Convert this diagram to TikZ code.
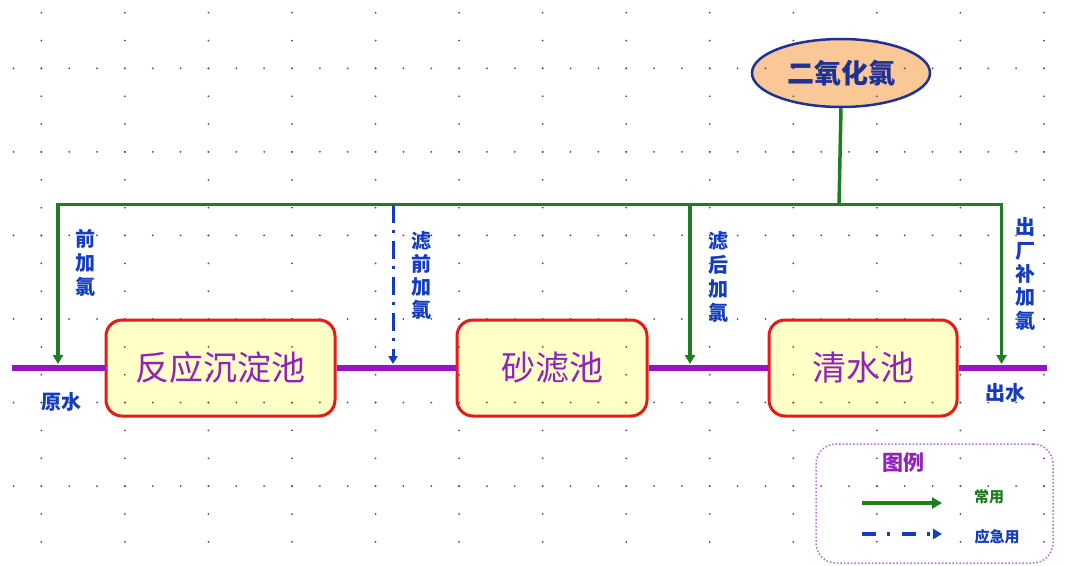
\documentclass[tikz,border=0pt]{standalone}
\usepackage{fontspec}
\newfontfamily\cjk{Noto Sans CJK SC}
\usetikzlibrary{arrows.meta,backgrounds,shapes.geometric}
\definecolor{pline}{RGB}{150,20,200}
\definecolor{boxred}{RGB}{230,25,30}
\definecolor{boxfill}{RGB}{255,255,200}
\definecolor{boxtxt}{RGB}{145,35,185}
\definecolor{gline}{RGB}{30,125,30}
\definecolor{bline}{RGB}{20,60,190}
\definecolor{peach}{RGB}{250,200,150}
\definecolor{ellblue}{RGB}{30,50,150}
\definecolor{legpurple}{RGB}{175,110,205}
\definecolor{dotc}{RGB}{80,80,80}
\tikzset{
  tank/.style={draw=boxred, line width=3pt, rounded corners=16pt, minimum height=96pt,
    inner sep=0pt, font=\cjk\fontsize{34}{34}\selectfont, text=boxtxt},
  mainflow/.style={draw=pline, line width=6.5pt},
  usual/.style={draw=gline, line width=3.5pt, line join=miter, -{Triangle[length=9pt,width=10pt]}},
  emerg/.style={draw=bline, line width=3pt, dash pattern=on 18pt off 7pt on 3pt off 8pt,
    -{Triangle[length=8pt,width=9pt]}},
  vlab/.style={inner sep=0pt, align=center, text=bline, font=\cjk\bfseries\fontsize{20}{24}\selectfont},
  hlab/.style={inner sep=0pt, text=bline, font=\cjk\bfseries\fontsize{20}{20}\selectfont},
  gdot/.style={fill=dotc}
}
\begin{document}
\begin{tikzpicture}[x=1pt,y=-1pt]
\useasboundingbox (0,0) rectangle (1067,565);
% tanks
\node[tank, minimum width=229pt] (b1) at (220.5,368) {反应沉淀池};
\node[tank, minimum width=190pt] (b2) at (552,368) {砂滤池};
\node[tank, minimum width=188pt] (b3) at (863,368) {清水池};
% chlorine dioxide
\node[ellipse, draw=ellblue, line width=2.5pt, minimum width=178pt, minimum height=68pt, inner sep=0pt,
  text=ellblue, font=\cjk\bfseries\fontsize{27}{27}\selectfont] (chem) at (841,73) {二氧化氯};
% backgrounds and dot grid
\begin{scope}[on background layer]
  \fill[boxfill, rounded corners=16pt] (b1.south west) rectangle (b1.north east);
  \fill[boxfill, rounded corners=16pt] (b2.south west) rectangle (b2.north east);
  \fill[boxfill, rounded corners=16pt] (b3.south west) rectangle (b3.north east);
  \fill[peach] (chem.center) ellipse [x radius=89pt, y radius=34pt];
  \foreach \i in {0,...,37} {
    \foreach \r in {0,...,5} {
      \fill[gdot] (13.5+27.85*\i, 68.3+83.55*\r) circle (1pt);
    }
  }
  \foreach \k in {0,...,12} {
    \foreach \j in {0,...,19} {
      \fill[gdot] (41.35+83.55*\k, 12.7+27.85*\j) circle (1pt);
    }
  }
\end{scope}
% main water line
\coordinate (raw) at (12,368);
\coordinate (outw) at (1047,368);
\draw[mainflow] (raw) -- (b1.west);
\draw[mainflow] (b1.east) -- (b2.west);
\draw[mainflow] (b2.east) -- (b3.west);
\draw[mainflow] (b3.east) -- (outw);
% dosing lines
\coordinate (jl) at (58,204.5);
\coordinate (jr) at (1001.5,204.5);
\coordinate (jc) at (839,204.5);
\coordinate (j2) at (393,204.5);
\coordinate (j3) at (690,204.5);
\coordinate (t1) at (58,364);
\coordinate (t2) at (393,364);
\coordinate (t3) at (690,364);
\coordinate (t4) at (1001.5,364);
\draw[usual, {Triangle[length=9pt,width=10pt]}-{Triangle[length=9pt,width=10pt]}] (t1) -- (jl) -- (jr) -- (t4);
\draw[draw=gline, line width=3.5pt] (chem.south) -- (jc);
\draw[usual] (j3) -- (t3);
\draw[emerg] (j2) -- (t2);
% labels
\node[vlab] (l1) at (85,263) {前\\加\\氯};
\node[vlab, font=\cjk\bfseries\fontsize{20}{23}\selectfont] (l2) at (421,275) {滤\\前\\加\\氯};
\node[vlab] (l3) at (718,277) {滤\\后\\加\\氯};
\node[vlab, font=\cjk\bfseries\fontsize{20}{23.4}\selectfont] (l4) at (1025,274) {出\\厂\\补\\加\\氯};
\node[hlab] (rawl) at (61,402) {原水};
\node[hlab] (outl) at (1005,393) {出水};
% legend
\node[draw=legpurple, dotted, line width=1.5pt, rounded corners=20pt, minimum width=237pt,
  minimum height=119pt, inner sep=0pt] (leg) at (934.5,503.5) {};
\node[inner sep=0pt, text=boxtxt, font=\cjk\bfseries\fontsize{21}{21}\selectfont] (legt) at (903,463) {图例};
\coordinate (la1) at (862,503);
\coordinate (la2) at (942,503);
\coordinate (lb1) at (862,534);
\coordinate (lb2) at (942,534);
\draw[usual, line width=4pt, -{Triangle[length=10pt,width=11pt]}] (la1) -- (la2);
\draw[emerg, line width=3.5pt, dash pattern=on 14pt off 11pt on 3pt off 12pt, -{Triangle[length=9pt,width=10pt]}] (lb1) -- (lb2);
\node[inner sep=0pt, text=gline, font=\cjk\bfseries\fontsize{15}{15}\selectfont] (lgu) at (989,497) {常用};
\node[inner sep=0pt, text=bline, font=\cjk\bfseries\fontsize{15}{15}\selectfont] (lge) at (997,537) {应急用};
\end{tikzpicture}
\end{document}
